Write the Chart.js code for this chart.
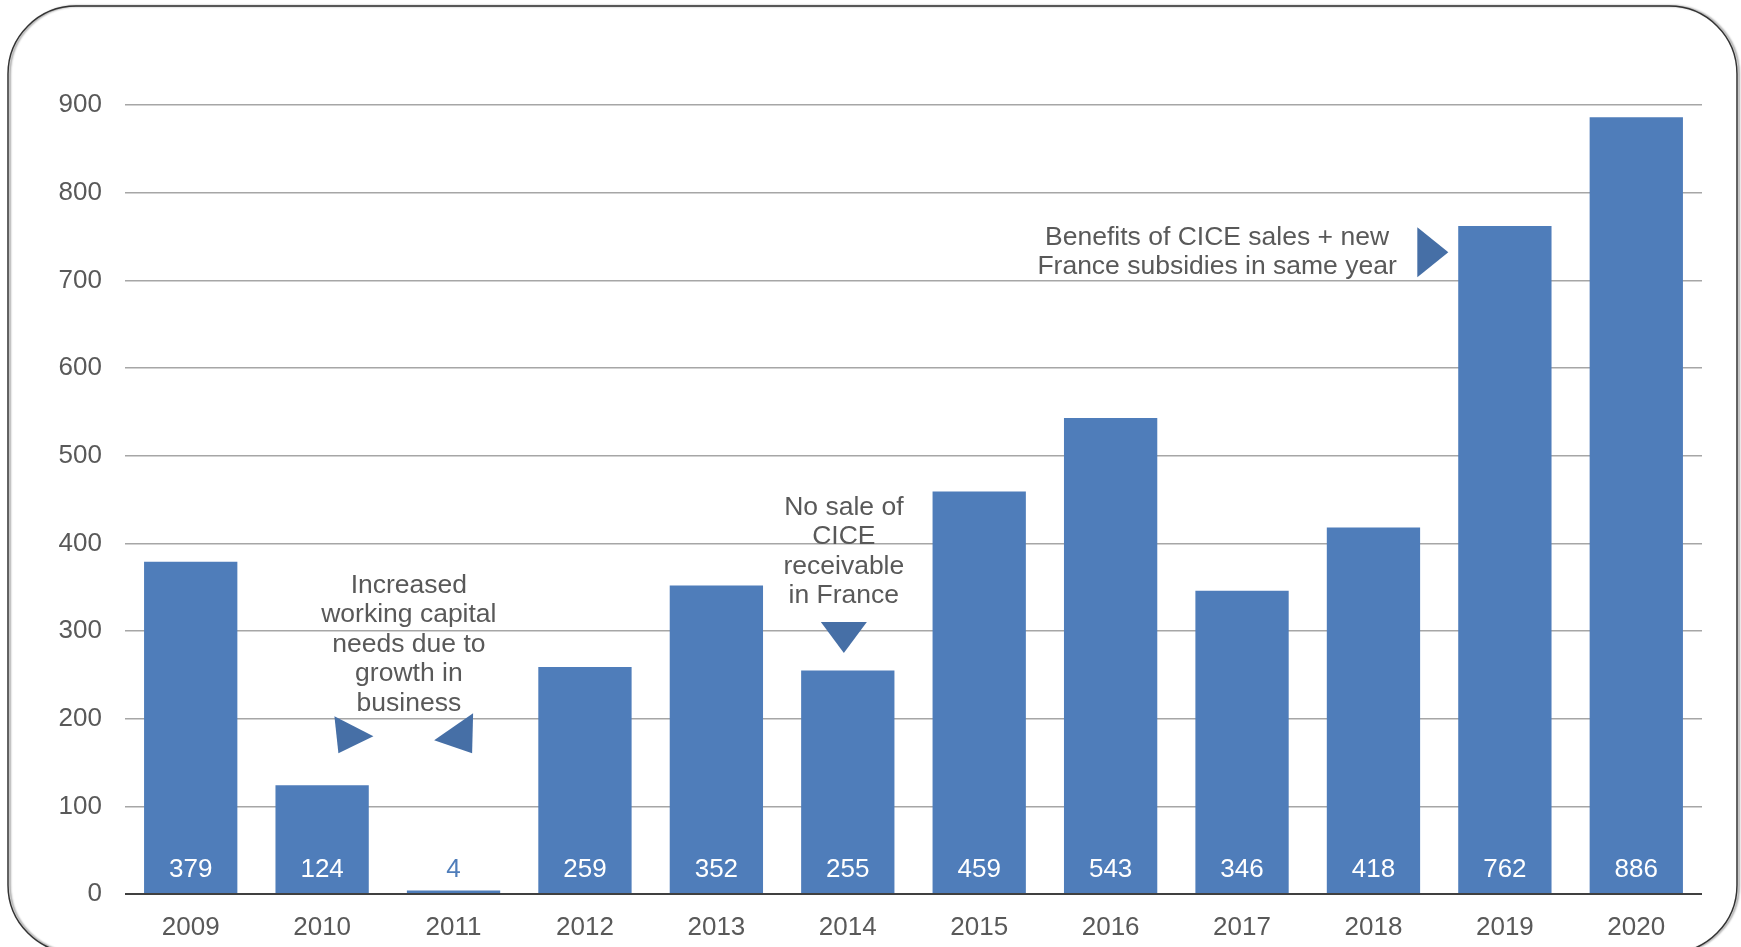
<!DOCTYPE html>
<html lang="en">
<head>
  <meta charset="UTF-8">
  <title>CICE chart</title>
  <style>
    html, body {
      margin: 0;
      padding: 0;
      background: #fff;
    }
    .wrap {
      position: relative;
      width: 1741px;
      height: 947px;
    }
  </style>
  <script src="https://cdn.jsdelivr.net/npm/chart.js"></script>
</head>
<body>
  <div class="wrap"><canvas id="barChart"></canvas></div>

  <script>
    const years = ['2009', '2010', '2011', '2012', '2013', '2014', '2015', '2016', '2017', '2018', '2019', '2020'];
    const values = [379, 124, 4, 259, 352, 255, 459, 543, 346, 418, 762, 886];
    const yTicks = [0, 100, 200, 300, 400, 500, 600, 700, 800, 900];

    // annotations, anchored in data units (x = category index, y = value of first line)
    const noteTexts = [
      ['Increased', 'working capital', 'needs due to', 'growth in', 'business'],
      ['No sale of', 'CICE', 'receivable', 'in France'],
      ['Benefits of CICE sales + new', 'France subsidies in same year']
    ];
    const noteX = [1.66, 4.97, 7.81];
    const noteY = [352, 441, 749];

    // arrow heads, same units
    const arrowX = [1.2, 2.05, 4.97, 9.41];
    const arrowY = [181, 181, 299, 732];

    const FONT = "'Liberation Sans', Arial, sans-serif";
    const TEXT = '#595959';
    const BAR = '#4F7DBA';
    const ARROW = '#466FA6';

    // triangle shapes, pixel offsets around each anchor
    const arrowShapes = [
      [[-14, -19], [-10, 18], [25, 1]],
      [[13, -22], [12, 18], [-26, 5]],
      [[-23, -10], [23, -10], [0, 21]],
      [[-10, -25], [-10, 25], [21, 0]]
    ];

    const valueLabels = {
      id: 'valueLabels',
      afterDatasetsDraw(chart) {
        const ctx = chart.ctx;
        const y0 = chart.scales.y.getPixelForValue(0);
        ctx.save();
        ctx.font = '26px ' + FONT;
        ctx.textAlign = 'center';
        ctx.textBaseline = 'middle';
        chart.getDatasetMeta(0).data.forEach((bar, i) => {
          const h = y0 - bar.y;
          ctx.fillStyle = h > 40 ? '#fff' : BAR;
          ctx.fillText(String(values[i]), bar.x, y0 - 24);
        });
        ctx.restore();
      }
    };

    const notes = {
      id: 'notes',
      afterDraw(chart) {
        const ctx = chart.ctx;
        const xs = chart.scales.x;
        const ys = chart.scales.y;
        ctx.save();
        ctx.font = '26.5px ' + FONT;
        ctx.fillStyle = TEXT;
        ctx.textAlign = 'center';
        ctx.textBaseline = 'middle';
        noteTexts.forEach((lines, n) => {
          const x = xs.getPixelForValue(noteX[n]);
          const y = ys.getPixelForValue(noteY[n]);
          lines.forEach((t, k) => ctx.fillText(t, x, y + k * 29.5));
        });

        ctx.fillStyle = ARROW;
        arrowShapes.forEach((pts, n) => {
          const x = xs.getPixelForValue(arrowX[n]);
          const y = ys.getPixelForValue(arrowY[n]);
          ctx.beginPath();
          pts.forEach((p, k) => {
            if (k === 0) ctx.moveTo(x + p[0], y + p[1]);
            else ctx.lineTo(x + p[0], y + p[1]);
          });
          ctx.closePath();
          ctx.fill();
        });

        // rounded frame around the slide
        ctx.beginPath();
        ctx.roundRect(8, 6, 1729, 947, 68);
        ctx.lineWidth = 1.5;
        ctx.strokeStyle = '#333';
        ctx.shadowColor = 'rgba(0,0,0,0.45)';
        ctx.shadowOffsetX = 2;
        ctx.shadowBlur = 2;
        ctx.stroke();
        ctx.restore();
      }
    };

    const barChartCtx = document.getElementById('barChart').getContext('2d');
    const barChart = new Chart(barChartCtx, {
      type: 'bar',
      data: {
        labels: years,
        datasets: [{
          data: values,
          backgroundColor: BAR,
          borderWidth: 0,
          categoryPercentage: 1,
          barPercentage: 0.71
        }]
      },
      options: {
        responsive: true,
        maintainAspectRatio: false,
        animation: false,
        layout: {
          padding: { top: 105, right: 39, left: 0, bottom: 0 }
        },
        plugins: {
          legend: { display: false },
          tooltip: { enabled: false }
        },
        scales: {
          x: {
            grid: { display: false },
            border: { display: false },
            ticks: {
              color: TEXT,
              font: { family: FONT, size: 26 },
              padding: 10,
              maxRotation: 0
            },
            afterFit(scale) { scale.height = 53; }
          },
          y: {
            min: 0,
            max: 900,
            afterBuildTicks(scale) {
              scale.ticks = yTicks.map(v => ({ value: v }));
            },
            grid: {
              drawTicks: false,
              color: c => c.tick.value === 0 ? '#404040' : '#A6A6A6',
              lineWidth: c => c.tick.value === 0 ? 2 : 1.5
            },
            border: { display: false },
            ticks: {
              color: TEXT,
              font: { family: FONT, size: 26 },
              padding: 23
            },
            afterFit(scale) { scale.width = 125; }
          }
        }
      },
      plugins: [valueLabels, notes]
    });
  </script>
</body>
</html>
